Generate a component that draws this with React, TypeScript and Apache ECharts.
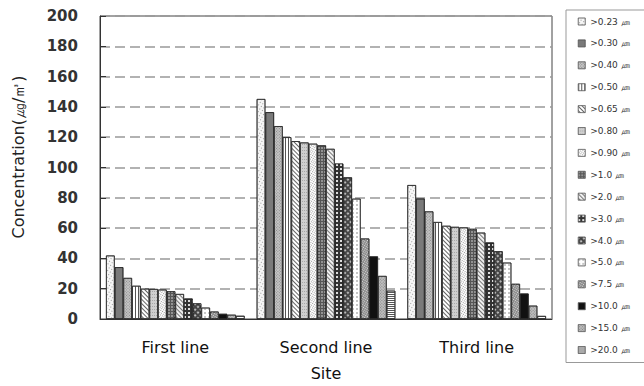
import React, { useEffect, useRef } from "react";
import * as echarts from "echarts";

const sites = ["First line", "Second line", "Third line"];
const sizes = [">0.23 ㎛", ">0.30 ㎛", ">0.40 ㎛", ">0.50 ㎛", ">0.65 ㎛", ">0.80 ㎛", ">0.90 ㎛", ">1.0 ㎛",
  ">2.0 ㎛", ">3.0 ㎛", ">4.0 ㎛", ">5.0 ㎛", ">7.5 ㎛", ">10.0 ㎛", ">15.0 ㎛", ">20.0 ㎛"];
const firstLine = [41.9, 34.2, 27.1, 21.9, 20, 19.8, 19.4, 18.3, 16.5, 13.5, 10.3, 7.5, 4.9, 3.4, 2.8, 2.1];
const secondLine = [145.2, 136.5, 127.3, 120, 117.4, 116.5, 115.7, 114.6, 112.3, 102.6, 93.5, 79.4, 53.1, 41.3, 28.4, 18.7];
const thirdLine = [88.4, 79.5, 71, 64, 61.5, 60.8, 60.4, 59.5, 57, 50.5, 44.7, 37.2, 23.2, 16.8, 8.8, 2];
const yTicks = [0, 200, 20];

const NONE = { symbol: "none" };
const styles: any[] = [
  { fill: "#f6f6f6", decal: { symbol: "rect", color: "#9a9a9a", dashArrayX: [1, 2], dashArrayY: [1, 2] } },
  { fill: "#7a7a7a", decal: NONE },
  { fill: "#c4c4c4", decal: { symbol: "rect", color: "#8a8a8a", dashArrayX: [1, 1], dashArrayY: [1, 1] } },
  { fill: "#ffffff", decal: { symbol: "rect", color: "#555", dashArrayX: [1, 2], dashArrayY: [1, 0] } },
  { fill: "#ffffff", decal: { symbol: "rect", color: "#666", dashArrayX: [1, 0], dashArrayY: [1, 2] } },
  { fill: "#cfcfcf", decal: { symbol: "rect", color: "#888", dashArrayX: [1, 1], dashArrayY: [1, 2] } },
  { fill: "#ffffff", decal: { symbol: "rect", color: "#999", dashArrayX: [1, 1], dashArrayY: [1, 1] } },
  { fill: "#555555", decal: { symbol: "rect", color: "#bbb", dashArrayX: [2, 1], dashArrayY: [2, 1] } },
  { fill: "#f0f0f0", decal: { symbol: "rect", color: "#777", dashArrayX: [1, 0], dashArrayY: [1, 2], rotation: Math.PI / 4 } },
  { fill: "#333333", decal: { symbol: "rect", color: "#ddd", dashArrayX: [2, 2], dashArrayY: [2, 2] } },
  { fill: "#444444", decal: { symbol: "circle", color: "#ccc", dashArrayX: [2, 2], dashArrayY: [2, 2] } },
  { fill: "#ffffff", decal: { symbol: "rect", color: "#999", dashArrayX: [2, 2], dashArrayY: [2, 2] } },
  { fill: "#8a8a8a", decal: { symbol: "rect", color: "#ddd", dashArrayX: [1, 1], dashArrayY: [1, 1] } },
  { fill: "#111111", decal: NONE },
  { fill: "#bdbdbd", decal: { symbol: "rect", color: "#888", dashArrayX: [1, 1], dashArrayY: [1, 1], rotation: Math.PI / 4 } },
  { fill: "#ffffff", decal: { symbol: "rect", color: "#555", dashArrayX: [1, 0], dashArrayY: [1, 1] } },
];

export default function App() {
  const ref = useRef<HTMLDivElement>(null);
  useEffect(() => {
    if (!ref.current) return;
    const chart = echarts.init(ref.current, null, { renderer: "svg" });
    const font = "DejaVu Sans, sans-serif";
    const series = sizes.map((name, i) => ({
      name,
      type: "bar",
      barGap: "0%",
      barCategoryGap: "8%",
      data: [firstLine[i], secondLine[i], thirdLine[i]],
      itemStyle: {
        color: styles[i].fill,
        borderColor: "#222",
        borderWidth: 0.7,
        decal: styles[i].decal,
      },
    }));
    chart.setOption({
      animation: false,
      aria: { enabled: true, decal: { show: true } },
      grid: { left: 100, right: 92, top: 16, bottom: 62, show: true, borderColor: "#444", borderWidth: 1 },
      legend: {
        orient: "vertical",
        left: 566,
        top: 10,
        icon: "rect",
        itemWidth: 7,
        itemHeight: 7,
        itemGap: 12.9,
        padding: [7, 20, 8, 12],
        borderColor: "#999",
        borderWidth: 1,
        itemStyle: { borderWidth: 0.5, borderColor: "#555" },
        textStyle: { fontSize: 9, fontFamily: font, color: "#333" },
        data: sizes,
      },
      xAxis: {
        type: "category",
        data: sites,
        name: "Site",
        nameLocation: "middle",
        nameGap: 46,
        nameTextStyle: { fontSize: 16, fontFamily: font, color: "#111" },
        axisLine: { lineStyle: { color: "#333" } },
        axisTick: { inside: true, length: 5, lineStyle: { color: "#333" } },
        axisLabel: { fontSize: 16, fontFamily: font, color: "#111", margin: 20 },
      },
      yAxis: {
        type: "value",
        min: yTicks[0],
        max: yTicks[1],
        interval: yTicks[2],
        axisLine: { show: true, lineStyle: { color: "#333" } },
        axisTick: { show: true, inside: true, length: 6, lineStyle: { color: "#333" } },
        axisLabel: { fontSize: 15, fontWeight: "bold", fontFamily: font, color: "#333", margin: 22 },
        splitLine: { lineStyle: { color: "#999", width: 1.5, type: [10, 5] } },
      },
      graphic: [
        {
          type: "text",
          x: 18,
          y: 157,
          rotation: Math.PI / 2,
          style: {
            text: "Concentration(㎍/㎥)",
            fontSize: 16,
            fontFamily: font,
            fill: "#222",
            textAlign: "center",
            textVerticalAlign: "middle",
          },
        },
      ],
      series,
    });
    return () => chart.dispose();
  }, []);
  return <div ref={ref} style={{ width: 644, height: 386, position: "absolute", left: 0, top: 0 }} />;
}
